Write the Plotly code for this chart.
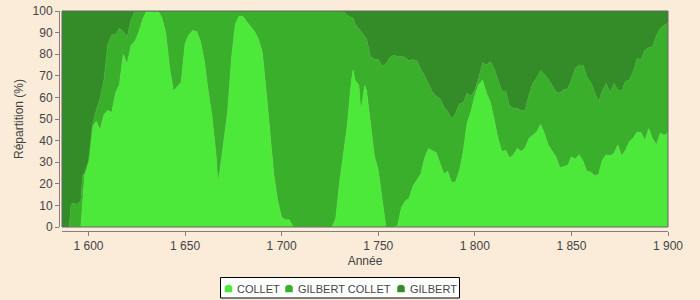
import plotly.graph_objects as go

years = [1586, 1588, 1590, 1591, 1592, 1594, 1596, 1597, 1598, 1600, 1602, 1604, 1606, 1608, 1610, 1612, 1614, 1616,
         1618, 1620, 1622, 1624, 1626, 1628, 1630, 1632, 1634, 1636, 1638, 1640, 1642, 1644, 1646, 1648, 1650, 1652,
         1654, 1656, 1658, 1660, 1662, 1664, 1666, 1667, 1668, 1670, 1672, 1674, 1676, 1678, 1680, 1682, 1684, 1686,
         1688, 1690, 1692, 1694, 1696, 1698, 1700, 1702, 1704, 1706, 1708, 1710, 1712, 1714, 1716, 1718, 1720, 1722,
         1724, 1726, 1728, 1730, 1732, 1734, 1736, 1737, 1738, 1740, 1741, 1742, 1743, 1744, 1746, 1748, 1750, 1752,
         1754, 1756, 1758, 1760, 1762, 1764, 1766, 1768, 1770, 1772, 1774, 1776, 1778, 1780, 1782, 1784, 1786, 1788,
         1790, 1792, 1794, 1796, 1798, 1800, 1802, 1804, 1806, 1808, 1810, 1812, 1814, 1816, 1818, 1820, 1822, 1824,
         1826, 1828, 1830, 1832, 1834, 1836, 1838, 1840, 1842, 1844, 1846, 1848, 1850, 1852, 1854, 1856, 1858, 1860,
         1862, 1864, 1866, 1868, 1870, 1872, 1874, 1876, 1878, 1880, 1882, 1884, 1886, 1888, 1890, 1892, 1894, 1896,
         1898, 1900]

collet = [0, 0, 0, 0, 0, 0, 0, 12, 24, 30, 46, 49, 45, 52, 54, 53, 62, 66,
          80, 75.5, 84, 86, 90, 96, 100, 100, 100, 100, 97, 90, 74, 63, 65, 67, 85, 89,
          91, 90.5, 86, 77, 63, 51, 34, 20.4, 26, 40, 53, 78, 94, 97.7, 97.5, 95, 93, 90.5,
          87, 81, 63, 44, 24, 12, 4.5, 3.4, 3.4, 0, 0, 0, 0, 0, 0, 0, 0, 0,
          0, 0, 4, 21, 34, 47.5, 67, 72.8, 68, 65.6, 53.5, 60, 65.6, 63, 49, 33, 26.5, 12,
          0, 0, 0, 0.5, 9, 12, 13.3, 19, 21.5, 24.5, 32, 36.3, 35.3, 34.5, 29.5, 24.5, 25.8, 20.5,
          21, 26, 35, 48, 53.5, 61, 66, 68, 62, 58, 50, 41, 35, 35.5, 32, 33.5, 36.5, 35,
          36.5, 41, 42.5, 44, 47.5, 43.5, 38, 35, 32.5, 27.5, 28, 28.5, 32.5, 31.5, 33.5, 30.5, 25.8, 25.5,
          23.8, 24.2, 31, 33.5, 33, 34, 38, 33, 35.5, 39.5, 41.2, 44, 43.8, 40, 45.5, 41, 38, 43.5,
          42.5, 43.5]

gilbert_collet = [0, 0, 0, 10.6, 11, 10.5, 12, 12, 1, 0.5, 1, 5, 14.5, 16, 30.5, 36, 27, 26,
                  10.5, 12.3, 12, 14, 10, 4, 0, 0, 0, 0, 3, 10, 26, 37, 35, 33, 15, 11,
                  9, 9.5, 14, 23, 37, 49, 66, 79.6, 74, 60, 47, 22, 6, 2.3, 2.5, 5, 7, 9.5,
                  13, 19, 37, 56, 76, 88, 95.5, 96.6, 96.6, 100, 100, 100, 100, 100, 100, 100, 100, 100,
                  100, 100, 96, 79, 65.5, 50.5, 30, 24, 26, 25.9, 37, 29.5, 22.4, 24, 30, 44.5, 51, 62.5,
                  75.5, 78.5, 79.5, 78.5, 70, 66.5, 63.7, 58.5, 55.5, 48.5, 38, 29.7, 27.2, 26, 30, 31, 27.7, 29.5,
                  31.5, 31, 22.5, 14, 7, 2.5, 3, 8, 13, 18.5, 23.5, 27, 28, 27.5, 24, 21.5, 18.5, 19,
                  17.5, 20, 24, 25, 25, 27, 30.5, 30.5, 30, 34.5, 35.5, 35.5, 35.5, 42, 41.5, 44.5, 43.7, 41.5,
                  38.7, 33.8, 32, 33, 29, 32.5, 25.5, 30, 32, 28.5, 30.8, 34, 33.7, 42, 37.5, 42.5, 50.5, 48.5,
                  51, 51]

gilbert = [100, 100, 100, 89.4, 89, 89.5, 88, 76, 75, 69.5, 53, 46, 40.5, 32, 15.5, 11, 11, 8,
           9.5, 12.2, 4, 0, 0, 0, 0, 0, 0, 0, 0, 0, 0, 0, 0, 0, 0, 0,
           0, 0, 0, 0, 0, 0, 0, 0, 0, 0, 0, 0, 0, 0, 0, 0, 0, 0,
           0, 0, 0, 0, 0, 0, 0, 0, 0, 0, 0, 0, 0, 0, 0, 0, 0, 0,
           0, 0, 0, 0, 0.5, 2, 3, 3.2, 6, 8.5, 9.5, 10.5, 12, 13, 21, 22.5, 22.5, 25.5,
           24.5, 21.5, 20.5, 21, 21, 21.5, 23, 22.5, 23, 27, 30, 34, 37.5, 39.5, 40.5, 44.5, 46.5, 50,
           47.5, 43, 42.5, 38, 39.5, 36.5, 31, 24, 25, 23.5, 26.5, 32, 37, 37, 44, 45, 45, 46,
           46, 39, 33.5, 31, 27.5, 29.5, 31.5, 34.5, 37.5, 38, 36.5, 36, 32, 26.5, 25, 25, 30.5, 33,
           37.5, 42, 37, 33.5, 38, 33.5, 36.5, 37, 32.5, 32, 28, 22, 22.5, 18, 17, 16.5, 11.5, 8,
           6.5, 5.5]

names = ["COLLET", "GILBERT COLLET", "GILBERT"]
colors = ["#4ce93a", "#3aaf2c", "#338c28"]
values = [collet, gilbert_collet, gilbert]

fig = go.Figure()
for name, vals, col in zip(names, values, colors):
    fig.add_trace(go.Scatter(
        x=years, y=vals, name=name, mode="lines", stackgroup="one",
        line=dict(color=col, width=0.5), fillcolor=col, hoverinfo="x+y+name",
        showlegend=False))

FAM = "Liberation Sans, Arial, sans-serif"
font = dict(family=FAM, size=12, color="#444444")

# layout geometry (pixels)
ML, MR, MT, MB = 59, 32, 11, 69
PW = 700 - ML - MR
PH = 300 - MT - MB


def px(xp):
    return (xp - ML) / PW


def py(yp):
    return (300 - MB - yp) / PH


shapes = [dict(type="rect", xref="x domain", yref="y domain", x0=0, x1=1, y0=0, y1=1,
               line=dict(color="#666666", width=1), layer="above")]
annotations = []

# custom legend box (bottom, centred)
shapes.append(dict(type="rect", xref="paper", yref="paper",
                   x0=px(220.5), x1=px(459.5), y0=py(298), y1=py(277.5),
                   line=dict(color="#000000", width=1), fillcolor="#ffffff", layer="above"))
icon_x = [225, 285.5, 397.5]
text_x = [235, 296, 407.5]
for name, col, ix, tx in zip(names, colors, icon_x, text_x):
    x0, x1 = px(ix), px(ix + 7)
    y0, y1 = py(292), py(285)
    xm = (x0 + x1) / 2
    yc = py(287.5)
    path = (f"M {x0},{y0} L {x0},{yc} Q {x0},{y1} {xm},{y1} Q {x1},{y1} {x1},{yc} L {x1},{y0} Z")
    shapes.append(dict(type="path", xref="paper", yref="paper", path=path,
                       fillcolor=col, line=dict(color=col, width=0.5), layer="above"))
    annotations.append(dict(text=name, xref="paper", yref="paper", x=px(tx), y=py(288.5),
                            xanchor="left", yanchor="middle", showarrow=False,
                            font=dict(family=FAM, size=11, color="#444444")))

fig.update_layout(
    width=700, height=300,
    margin=dict(l=ML, r=MR, t=MT, b=MB, autoexpand=False),
    paper_bgcolor="#fbebd9", plot_bgcolor="#fbebd9",
    font=font,
    separators=", ",
    showlegend=False,
    xaxis=dict(range=[1586.3, 1900], domain=[3 / PW, 1], anchor="free", position=0,
               dtick=50, tick0=1600, tickformat=",d", showgrid=False, zeroline=False,
               showline=True, linecolor="#808080", linewidth=1, automargin=False,
               ticks="outside", ticklen=4, tickcolor="#808080",
               title=dict(text="Année", standoff=4, font=font)),
    yaxis=dict(range=[0, 100], domain=[4 / PH, 1], anchor="free", position=0,
               dtick=10, showgrid=False, zeroline=False,
               showline=True, linecolor="#808080", linewidth=1, automargin=False,
               ticks="outside", ticklen=4, tickcolor="#808080",
               title=dict(text="Répartition (%)", standoff=5, font=font)),
    shapes=shapes,
    annotations=annotations,
)

fig.write_html("out.html")
